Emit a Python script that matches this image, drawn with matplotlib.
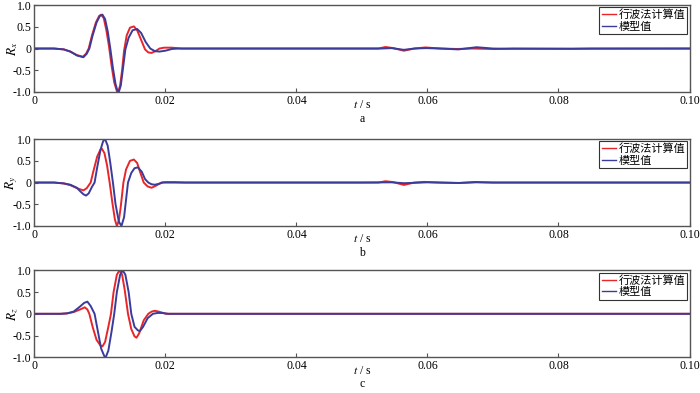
import matplotlib
matplotlib.use("Agg")
import matplotlib.pyplot as plt

plt.rcParams['font.family'] = ['Liberation Serif', 'Noto Sans CJK SC']
plt.rcParams['mathtext.fontset'] = 'stix'

# series values (time in s, reflection coefficient)
ax_t_red = [0, 0.003, 0.0045, 0.0055, 0.0065, 0.0074, 0.0079, 0.0083, 0.0088, 0.0094,
            0.0099, 0.0102, 0.0106, 0.0110, 0.0114, 0.0118, 0.0122, 0.0126, 0.0128, 0.0131,
            0.0134, 0.0137, 0.0141, 0.0146, 0.0152, 0.0157, 0.0163, 0.0169, 0.0174, 0.0179,
            0.0185, 0.0191, 0.0198, 0.021, 0.0225, 0.05, 0.0525, 0.0536, 0.0548, 0.0564,
            0.058, 0.0597, 0.062, 0.0645, 0.067, 0.0703, 0.073, 0.082, 0.085, 0.1]
ax_v_red = [0, 0, -0.02, -0.07, -0.15, -0.19, -0.12, 0.0, 0.3, 0.6,
            0.75, 0.78, 0.7, 0.42, 0.05, -0.4, -0.78, -0.98, -1.0, -0.85,
            -0.5, -0.05, 0.3, 0.48, 0.51, 0.42, 0.2, -0.02, -0.09, -0.1,
            -0.06, 0.0, 0.02, 0.02, 0.0, 0, 0.0, 0.035, 0.01, -0.05,
            0.0, 0.025, 0.0, -0.01, 0.0, -0.012, 0, -0.008, 0, 0]

ax_t_blue = [0, 0.003, 0.0045, 0.0055, 0.0065, 0.0075, 0.008, 0.0084, 0.0089, 0.0095,
             0.01, 0.0104, 0.0108, 0.0112, 0.0116, 0.012, 0.0124, 0.0127, 0.0129, 0.0132,
             0.0135, 0.0139, 0.0144, 0.015, 0.0157, 0.0163, 0.017, 0.0177, 0.0184, 0.0191,
             0.02, 0.021, 0.022, 0.05, 0.053, 0.0545, 0.0564, 0.058, 0.0598, 0.062,
             0.0647, 0.0675, 0.07, 0.072, 0.1]
ax_v_blue = [0, 0, -0.02, -0.07, -0.16, -0.2, -0.12, 0.0, 0.3, 0.6,
             0.75, 0.78, 0.68, 0.4, 0.0, -0.45, -0.82, -0.98, -1.0, -0.85,
             -0.5, -0.02, 0.25, 0.42, 0.45, 0.36, 0.15, 0.0, -0.06, -0.07,
             -0.05, -0.01, 0.0, 0, 0.0, 0.01, -0.03, 0.0, 0.01, 0,
             -0.02, 0.03, 0.0, -0.005, 0]

by_t_red = [0, 0.003, 0.0045, 0.0055, 0.0065, 0.0075, 0.008, 0.0086, 0.009, 0.0096,
            0.0101, 0.0103, 0.0107, 0.0111, 0.0115, 0.0119, 0.0123, 0.0126, 0.0129, 0.0132,
            0.0136, 0.014, 0.0146, 0.0152, 0.0157, 0.0162, 0.0167, 0.0173, 0.0179, 0.0186,
            0.0194, 0.02, 0.0215, 0.023, 0.05, 0.0525, 0.0536, 0.0548, 0.0564, 0.058,
            0.0595, 0.062, 0.065, 0.0675, 0.07, 0.1]
by_v_red = [0, 0, -0.02, -0.06, -0.13, -0.18, -0.13, 0.0, 0.25, 0.6,
            0.76, 0.78, 0.68, 0.4, 0.0, -0.45, -0.85, -1.0, -0.88, -0.55,
            0.0, 0.3, 0.5, 0.53, 0.45, 0.22, 0.0, -0.09, -0.12, -0.07,
            0.0, 0.01, 0.01, 0, 0, 0.0, 0.03, 0.01, -0.055, 0.0,
            0.015, 0.0, -0.01, 0.005, 0, 0]

by_t_blue = [0, 0.003, 0.0045, 0.0055, 0.0065, 0.007, 0.0075, 0.0079, 0.0083, 0.0088,
             0.0092, 0.0096, 0.0101, 0.0105, 0.0108, 0.0112, 0.0116, 0.012, 0.0124, 0.0129,
             0.0133, 0.0137, 0.014, 0.0143, 0.0148, 0.0153, 0.0158, 0.0164, 0.0169, 0.0174,
             0.0179, 0.0184, 0.019, 0.0196, 0.022, 0.05, 0.0545, 0.0564, 0.06, 0.0647,
             0.0673, 0.07, 0.1]
by_v_blue = [0, 0, -0.02, -0.05, -0.12, -0.2, -0.27, -0.3, -0.25, -0.1,
             0.0, 0.35, 0.75, 0.95, 1.0, 0.85, 0.45, 0.0, -0.5, -0.9,
             -1.0, -0.8, -0.4, 0.0, 0.22, 0.33, 0.35, 0.25, 0.08, 0.0,
             -0.04, -0.05, -0.03, 0.0, 0.0, 0, 0.005, -0.015, 0.005, -0.01,
             0.012, 0, 0]

cz_t_red = [0, 0.004, 0.005, 0.006, 0.007, 0.0077, 0.0081, 0.0084, 0.0089, 0.0095,
            0.0101, 0.0104, 0.0108, 0.0113, 0.0117, 0.0121, 0.0126, 0.013, 0.0134, 0.0138,
            0.0143, 0.0148, 0.0153, 0.0156, 0.016, 0.0167, 0.0174, 0.0179, 0.0184, 0.019,
            0.0201, 0.1]
cz_v_red = [0, 0, 0.01, 0.04, 0.1, 0.15, 0.1, 0.0, -0.3, -0.6,
            -0.73, -0.75, -0.65, -0.3, 0.0, 0.5, 0.9, 1.0, 0.9, 0.55,
            0.0, -0.35, -0.52, -0.55, -0.45, -0.15, 0.0, 0.05, 0.07, 0.05,
            0.0, 0]

cz_t_blue = [0, 0.004, 0.005, 0.006, 0.007, 0.0076, 0.0081, 0.0086, 0.0092, 0.0097,
             0.0102, 0.0107, 0.0109, 0.0113, 0.0118, 0.0122, 0.0126, 0.0131, 0.0135, 0.0139,
             0.0144, 0.0148, 0.0153, 0.0158, 0.0161, 0.0166, 0.0173, 0.0181, 0.0188, 0.0195,
             0.0205, 0.1]
cz_v_blue = [0, 0, 0.01, 0.05, 0.17, 0.25, 0.28, 0.18, 0.0, -0.4,
             -0.8, -0.98, -1.0, -0.85, -0.4, 0.0, 0.5, 0.9, 1.0, 0.9,
             0.5, 0.0, -0.3, -0.38, -0.4, -0.3, -0.1, 0.0, 0.02, 0.02,
             0.0, 0]

panels = [
    ('$R_x$', 'a', ax_t_red, ax_v_red, ax_t_blue, ax_v_blue),
    ('$R_y$', 'b', by_t_red, by_v_red, by_t_blue, by_v_blue),
    ('$R_z$', 'c', cz_t_red, cz_v_red, cz_t_blue, cz_v_blue),
]
label_red = '行波法计算值'
label_blue = '模型值'
x_ticks = [0, 0.02, 0.04, 0.06, 0.08, 0.10]
x_tick_labels = ['0', '0.02', '0.04', '0.06', '0.08', '0.10']
y_ticks = [-1.0, -0.5, 0, 0.5, 1.0]
y_tick_labels = ['-1.0', '-0.5', '0', '0.5', '1.0']

fig = plt.figure(figsize=(7, 3.93), dpi=100)
bottoms = [0.766, 0.425, 0.091]

for (ylab, letter, tr, vr, tb, vb), b in zip(panels, bottoms):
    ax = fig.add_axes([0.049, b, 0.936, 0.221])
    ax.plot(tr, vr, color='#e8262a', lw=1.4, label=label_red, solid_joinstyle='round')
    ax.plot(tb, vb, color='#3b3b9c', lw=1.4, label=label_blue, solid_joinstyle='round')
    ax.set_xlim(0, 0.1)
    ax.set_ylim(-1.0, 1.0)
    ax.set_xticks(x_ticks)
    ax.set_xticklabels(x_tick_labels)
    ax.set_yticks(y_ticks)
    ax.set_yticklabels(y_tick_labels)
    ax.tick_params(direction='in', length=3, labelsize=8.5, pad=2, color='#555555')
    for s in ax.spines.values():
        s.set_color('#555555')
        s.set_linewidth(1.0)
    ax.set_ylabel(ylab, fontsize=9.5)
    ax.yaxis.set_label_coords(-0.022, 0.5)
    ax.text(0.5, -0.155, '$t$ / s', transform=ax.transAxes, ha='center', va='center',
            fontsize=8.5)
    ax.text(0.5, -0.31, letter, transform=ax.transAxes, ha='center', va='center',
            fontsize=8.5)
    leg = ax.legend(loc='upper right', fontsize=8, handlelength=1.3, handletextpad=0.2,
                    borderpad=0.2, labelspacing=0.15, borderaxespad=0.2, fancybox=False,
                    framealpha=1)
    leg.get_frame().set_edgecolor('#333333')
    leg.get_frame().set_linewidth(0.8)
    for ln in leg.get_lines():
        ln.set_linewidth(1.0)

fig.savefig('out.png', dpi=100)
